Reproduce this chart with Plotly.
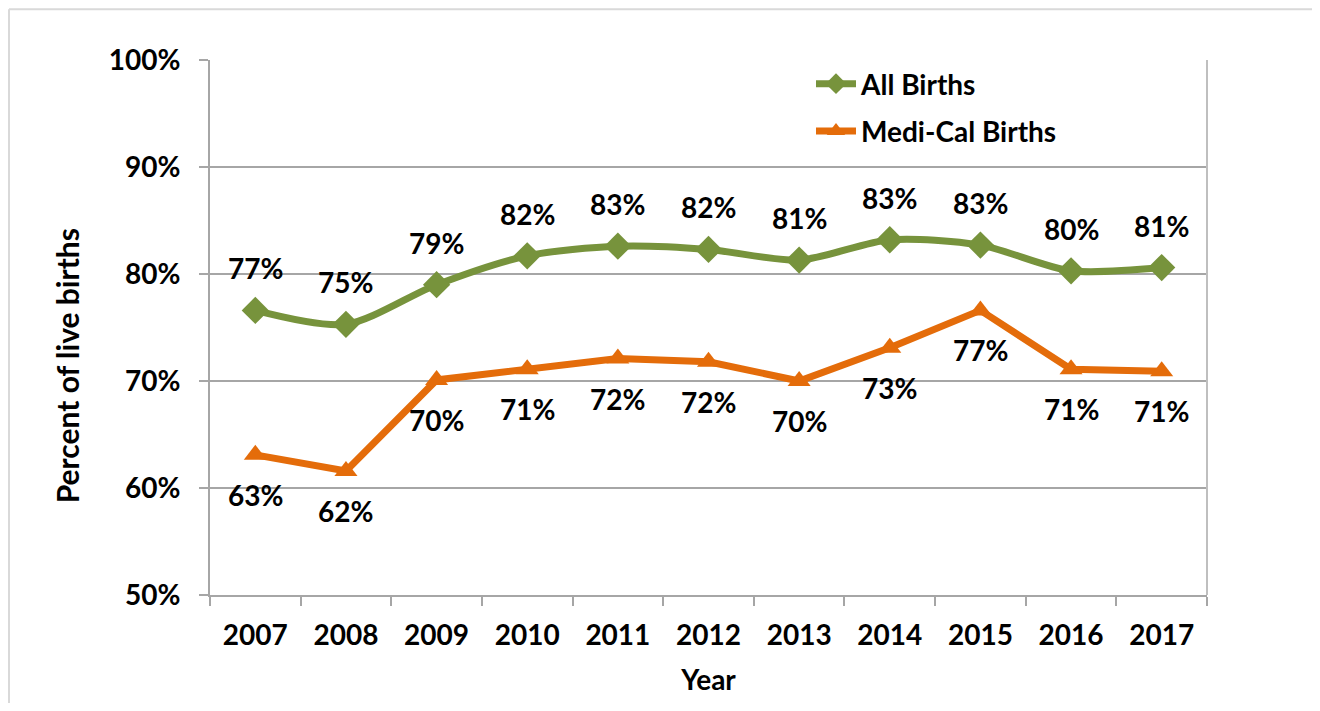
import plotly.graph_objects as go

years = ["2007", "2008", "2009", "2010", "2011", "2012", "2013", "2014", "2015", "2016", "2017"]
all_births = [76.6, 75.3, 79.0, 81.7, 82.6, 82.3, 81.3, 83.2, 82.7, 80.3, 80.6]
medi_cal = [63.1, 61.6, 70.1, 71.1, 72.1, 71.8, 70.0, 73.1, 76.6, 71.1, 70.9]
y_ticks = [50, 60, 70, 80, 90, 100]
y_tick_labels = ["50%", "60%", "70%", "80%", "90%", "100%"]

GREEN = "#77933C"
ORANGE = "#E46C0A"
FONT = "Lato"
FS = 28

# page has an 8px body margin; figure sized to fit the 1320x711 window
W, H = 1304, 695
ML, MT, PW, PH = 202, 52, 997, 538
MR = W - ML - PW
MB = H - MT - PH


def px_x(page_x):
    return (page_x - 8 - ML) / PW


def px_y(page_y):
    return 1 - (page_y - 8 - MT) / PH


fig = go.Figure()
fig.add_trace(go.Scatter(
    x=years, y=all_births, name="All Births", mode="lines+markers",
    legendgroup="a",
    line=dict(color=GREEN, width=7, shape="spline", smoothing=0.8),
    marker=dict(symbol="diamond", size=21, color=GREEN),
))
fig.add_trace(go.Scatter(
    x=years, y=medi_cal, name="Medi-Cal Births", mode="lines+markers",
    legendgroup="b",
    line=dict(color=ORANGE, width=7),
    marker=dict(symbol="triangle-up", size=20, color=ORANGE),
))

lab_font = dict(family=FONT, size=FS, color="black", weight=700)
annotations = []
for i, v in enumerate(all_births):
    annotations.append(dict(x=i, y=v, xref="x", yref="y", text=f"{round(v):d}%",
                            showarrow=False, yshift=42, font=lab_font))
for i, v in enumerate(medi_cal):
    annotations.append(dict(x=i, y=v, xref="x", yref="y", text=f"{round(v):d}%",
                            showarrow=False, yshift=-40, font=lab_font))
annotations.append(dict(x=px_x(67), y=px_y(368), xref="paper", yref="paper",
                        text="Percent of live births", textangle=-90, showarrow=False,
                        xanchor="center", yanchor="middle",
                        font=dict(family=FONT, size=30, color="black", weight=700)))

fig.update_layout(
    width=W, height=H,
    margin=dict(l=ML, r=MR, t=MT, b=MB),
    paper_bgcolor="white", plot_bgcolor="white",
    font=dict(family=FONT, size=FS, color="black", weight=700),
    showlegend=True,
    legend=dict(x=px_x(811), y=px_y(59), xanchor="left", yanchor="top",
                bgcolor="rgba(0,0,0,0)", font=dict(family=FONT, size=FS, weight=700),
                traceorder="grouped", tracegroupgap=8, itemwidth=40),
    annotations=annotations,
    xaxis=dict(type="category", showgrid=False, showline=True, linecolor="#A6A6A6", linewidth=2,
               ticks="outside", tickson="boundaries", ticklen=9, tickcolor="#A6A6A6", tickwidth=2,
               ticklabelstandoff=14,
               title=dict(text="Year", standoff=21, font=dict(family=FONT, size=FS, weight=700)),
               range=[-0.5, 10.5]),
    yaxis=dict(range=[50, 100], tickvals=y_ticks, ticktext=y_tick_labels,
               showgrid=True, gridcolor="#A6A6A6", gridwidth=2,
               showline=True, linecolor="#A6A6A6", linewidth=2,
               ticks="outside", ticklen=9, tickcolor="#A6A6A6", tickwidth=2,
               ticklabelstandoff=13,
               zeroline=False),
    shapes=[
        dict(type="line", xref="paper", yref="paper", x0=1, x1=1, y0=0, y1=1,
             line=dict(color="#BFBFBF", width=2)),
        dict(type="line", xref="paper", yref="paper",
             x0=(1 - ML) / PW, x1=(W + 40 - ML) / PW,
             y0=1 + (MT - 1) / PH, y1=1 + (MT - 1) / PH,
             line=dict(color="#D9D9D9", width=2), layer="below"),
        dict(type="line", xref="paper", yref="paper",
             x0=(1 - ML) / PW, x1=(1 - ML) / PW,
             y0=1 + (MT - 1) / PH, y1=1 - (H + 40 - MT) / PH,
             line=dict(color="#D9D9D9", width=2), layer="below"),
    ],
)

fig.write_html("out.html")
